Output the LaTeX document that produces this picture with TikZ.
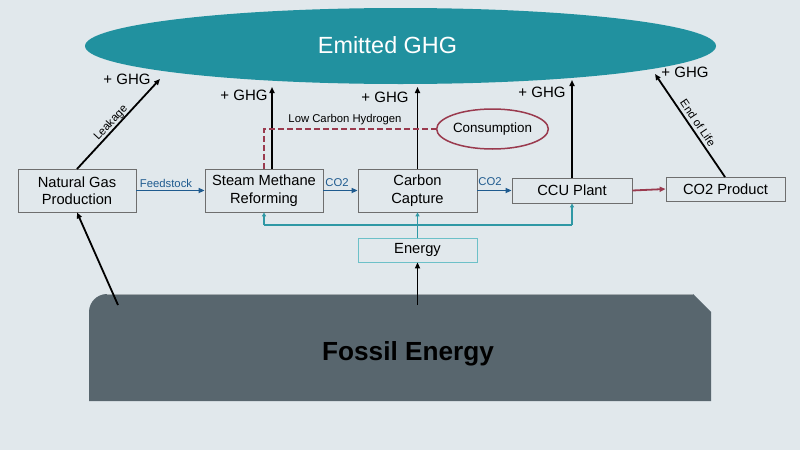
\documentclass[tikz,border=0pt]{standalone}
\usepackage{fontspec}
\setmainfont{Liberation Sans}
\usetikzlibrary{arrows.meta,shapes.geometric}
\definecolor{bg}{HTML}{E1E8EC}
\definecolor{tealc}{HTML}{21919F}
\definecolor{fossil}{HTML}{58666E}
\definecolor{bluec}{HTML}{1F5B8F}
\definecolor{maroon}{HTML}{9A3A4E}
\definecolor{tealline}{HTML}{2F98A5}
\definecolor{boxline}{HTML}{6E6E6E}
\definecolor{energyline}{HTML}{6CC0C8}
\tikzset{
  box/.style={draw=boxline, line width=0.8pt, fill=bg, align=center, inner sep=0pt,
    font=\fontsize{14.7}{17.5}\selectfont},
  ghgarrow/.style={draw=black, line width=1.8pt, -{Triangle[length=6pt,width=5pt]}},
  bluearrow/.style={draw=bluec, line width=1.8pt, -{Triangle[length=6pt,width=5pt]}},
  tealarrow/.style={draw=tealline, line width=1.3pt, -{Triangle[length=4pt,width=4pt]}},
  ghglabel/.style={font=\fontsize{15}{17}\selectfont, inner sep=0pt},
  smalllabel/.style={font=\fontsize{11.3}{13}\selectfont, inner sep=0pt},
}
\begin{document}
\begin{tikzpicture}[x=1pt,y=-1pt]
\useasboundingbox (0,0) rectangle (800,450);
\fill[bg] (0,0) rectangle (800,450);

% Fossil energy block
\fill[fossil] (89,401) -- (89,312) arc[start angle=180, end angle=270, radius=18] -- (693,294) -- (711,312) -- (711,401) -- cycle;
\draw[fossil!55!white, line width=0.6pt] (107,294.3) -- (693,294.3);
\node[font=\fontsize{26.2}{30}\selectfont\bfseries, inner sep=0pt] (fossiltext) at (408,354) {Fossil Energy};

% Emitted GHG ellipse
\node[ellipse, fill=tealc, minimum width=631pt, minimum height=76pt, inner sep=0pt] (ghg) at (400.5,46) {};
\node[text=white, font=\fontsize{23.4}{26}\selectfont, inner sep=0pt] (ghgtext) at (387.5,45) {Emitted GHG};

% Boxes
\node[box, minimum width=118pt, minimum height=43pt] (ng) at (77,190.5) {Natural Gas\\Production};
\node[box, minimum width=118pt, minimum height=43pt] (smr) at (264,190.5) {Steam Methane\\Reforming};
\node[box, minimum width=119pt, minimum height=43pt] (cc) at (417.5,190.5) {Carbon\\Capture};
\node[box, minimum width=120pt, minimum height=25pt] (ccu) at (572,190.5) {CCU Plant};
\node[box, minimum width=119pt, minimum height=24pt] (prod) at (725.5,189) {CO2 Product};
\node[box, draw=energyline, minimum width=119pt, minimum height=24pt] (energy) at (417.5,250) {Energy};

% Consumption ellipse
\node[ellipse, draw=maroon, line width=1.5pt, minimum width=90pt, minimum height=40pt, inner sep=0pt,
  font=\fontsize{13.4}{15}\selectfont] (cons) at (492.5,129) {Consumption};

% Coordinates for free ends
\coordinate (leakend) at (160,79);
\coordinate (smrend) at (272,87);
\coordinate (ccend) at (417.5,87);
\coordinate (ccuend) at (572,80);
\coordinate (eolend) at (655,74);
\coordinate (ngfrom) at (118,305);
\coordinate (enfrom) at (417.5,305);
\coordinate (leakstart) at (77,169);
\coordinate (eolstart) at (725,177);
\coordinate (smrtop) at (272,169);
\coordinate (dashcorner) at (264,129);
\coordinate (tl) at (264,225);
\coordinate (tr) at (572,225);
\coordinate (tm) at (417.5,225);

% GHG arrows
\draw[ghgarrow] (leakstart) -- (leakend);
\node[smalllabel, rotate=47] (leaklab) at (111,123) {Leakage};
\draw[ghgarrow] (smrtop) -- (smrend);
\draw[ghgarrow] (cc.north) -- (ccend);
\draw[ghgarrow] (ccu.north) -- (ccuend);
\draw[ghgarrow] (eolstart) -- (eolend);
\node[smalllabel, rotate=-56] (eollab) at (698,123) {End of Life};

\node[ghglabel] (g1) at (127,79) {+ GHG};
\node[ghglabel] (g2) at (244,95) {+ GHG};
\node[ghglabel] (g3) at (385,97) {+ GHG};
\node[ghglabel] (g4) at (542,92) {+ GHG};
\node[ghglabel] (g5) at (685,72) {+ GHG};

% Fossil arrows
\draw[ghgarrow] (ngfrom) -- (ng.south);
\draw[ghgarrow] (enfrom) -- (energy.south);

% Horizontal flows
\draw[bluearrow] (ng.east) -- (smr.west);
\node[smalllabel, text=bluec] (feed) at (166,183) {Feedstock};
\draw[bluearrow] (smr.east) -- (cc.west);
\node[smalllabel, text=bluec] (co2a) at (337,183) {CO2};
\draw[bluearrow] (cc.east) -- (ccu.west);
\node[smalllabel, text=bluec] (co2b) at (490,182) {CO2};
\draw[draw=maroon, line width=1.8pt, -{Triangle[length=6pt,width=5pt]}] (ccu.east) -- (prod.west);

% Low carbon hydrogen dashed
\draw[maroon, line width=1.8pt, dash pattern=on 6pt off 3pt] (smr.north) -- (dashcorner) -- (cons.west);
\node[smalllabel] (lch) at (345,120) {Low Carbon Hydrogen};

% Energy distribution
\draw[tealline, line width=1.3pt] (energy.north) -- (tm);
\draw[tealline, line width=1.3pt] (tl) -- (tr);
\draw[tealarrow] (tl) -- (smr.south);
\draw[tealarrow] (tm) -- (cc.south);
\draw[tealarrow] (tr) -- (ccu.south);
\end{tikzpicture}
\end{document}
